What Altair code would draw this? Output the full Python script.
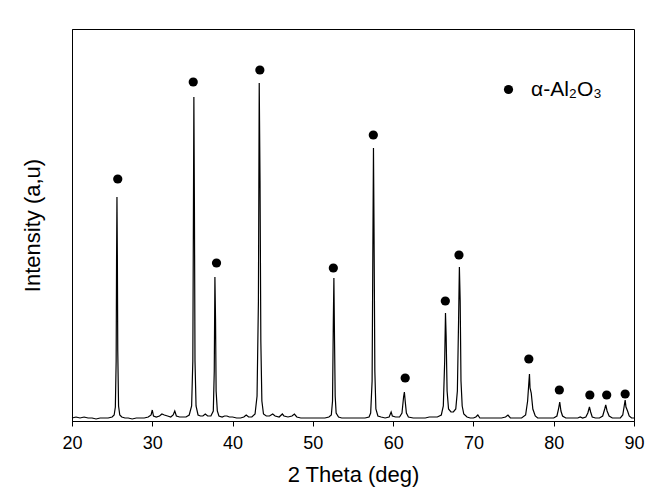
import altair as alt
import pandas as pd

# XRD profile (2θ in degrees, intensity in arbitrary units)
two_theta = [
    20.0, 20.5, 21.0, 21.5, 22.0, 22.5, 23.0, 23.5, 24.0, 24.5, 25.0, 25.25, 25.4, 25.5, 25.55,
    25.6, 25.65, 25.7, 25.8, 25.95, 26.2, 26.6, 27.0, 27.5, 28.0, 28.5, 29.0, 29.5, 29.85, 30.0,
    30.15, 30.5, 30.9, 31.2, 31.5, 31.9, 32.3, 32.6, 32.8, 33.0, 33.4, 33.8, 34.2, 34.6, 34.9,
    35.05, 35.12, 35.18, 35.25, 35.32, 35.45, 35.7, 36.0, 36.3, 36.6, 36.9, 37.3, 37.6, 37.72,
    37.8, 37.88, 37.95, 38.1, 38.3, 38.7, 39.0, 39.3, 39.6, 40.0, 40.5, 41.0, 41.4, 41.7, 42.0,
    42.4, 42.8, 43.05, 43.22, 43.32, 43.42, 43.52, 43.65, 43.85, 44.2, 44.6, 45.0, 45.3, 45.8,
    46.2, 46.4, 46.9, 47.4, 47.7, 48.0, 48.5, 49.0, 49.5, 50.0, 50.5, 51.0, 51.5, 52.0, 52.3,
    52.45, 52.55, 52.62, 52.7, 52.78, 52.9, 53.2, 53.6, 54.0, 54.5, 55.0, 55.5, 56.0, 56.5, 57.0,
    57.2, 57.38, 57.48, 57.55, 57.62, 57.72, 57.85, 58.1, 58.5, 59.0, 59.5, 59.75, 59.9, 60.3,
    60.8, 61.1, 61.3, 61.4, 61.5, 61.65, 61.9, 62.5, 63.0, 63.5, 64.0, 64.5, 65.0, 65.5, 66.0,
    66.25, 66.42, 66.52, 66.6, 66.72, 66.9, 67.2, 67.5, 67.8, 68.0, 68.15, 68.25, 68.35, 68.45,
    68.6, 68.8, 69.2, 69.6, 70.0, 70.3, 70.55, 70.8, 71.5, 72.0, 72.5, 73.0, 73.5, 74.0, 74.3,
    74.6, 75.0, 75.5, 76.0, 76.5, 76.75, 76.9, 76.98, 77.05, 77.2, 77.4, 77.7, 78.0, 78.5, 79.0,
    79.5, 80.0, 80.4, 80.6, 80.75, 80.9, 81.1, 81.5, 82.0, 82.5, 83.0, 83.3, 83.6, 84.0, 84.25,
    84.45, 84.6, 84.8, 85.2, 85.7, 86.1, 86.35, 86.48, 86.65, 86.9, 87.3, 87.8, 88.3, 88.6, 88.8,
    88.9, 89.0, 89.2, 89.4, 89.7, 90.0,
]
intensity = [
    3, 4, 3, 4, 3, 3, 2, 3, 3, 3, 4, 6, 14, 60, 160,
    224, 165, 70, 15, 6, 4, 3, 3, 2, 3, 3, 3, 4, 6, 11,
    5, 4, 5, 7, 6, 5, 4, 6, 10, 5, 4, 4, 4, 6, 15,
    60, 200, 324, 210, 60, 15, 6, 5, 5, 7, 5, 5, 10, 50,
    144, 100, 30, 10, 5, 4, 5, 5, 4, 4, 3, 3, 4, 6, 4,
    4, 7, 25, 120, 338, 240, 80, 20, 7, 5, 5, 7, 5, 4,
    7, 5, 4, 5, 7, 4, 3, 3, 3, 3, 3, 3, 3, 4, 6,
    20, 100, 143, 80, 25, 8, 4, 3, 3, 3, 3, 3, 3, 3, 4,
    8, 40, 180, 273, 190, 50, 12, 5, 4, 3, 4, 9, 5, 4,
    4, 8, 24, 29, 20, 8, 4, 3, 3, 3, 3, 4, 4, 4, 6,
    15, 60, 108, 85, 30, 12, 9, 9, 12, 30, 100, 154, 120, 40,
    15, 7, 4, 3, 3, 4, 6, 3, 3, 3, 3, 3, 3, 4, 6,
    3, 3, 3, 3, 6, 20, 38, 47, 33, 28, 12, 5, 3, 3, 3,
    3, 3, 5, 12, 19, 10, 5, 3, 3, 3, 3, 4, 3, 4, 8,
    14, 9, 4, 3, 3, 5, 12, 16, 10, 5, 3, 3, 3, 6, 16,
    21, 14, 10, 5, 3, 3,
]

# Peak markers for α-Al2O3
marker_theta = [25.7, 35.1, 38.0, 43.4, 52.55, 57.53, 61.5, 66.5, 68.2, 76.9, 80.7, 84.5, 86.6, 88.9]
marker_height = [242, 339, 158, 351, 153, 286, 43, 120, 166, 62, 31, 26, 26, 27]
phase_name = "α-Al₂O₃"

FONT = "Liberation Sans"

profile = pd.DataFrame({"theta": two_theta, "intensity": intensity})
markers = pd.DataFrame({
    "theta": marker_theta,
    "intensity": marker_height,
    "phase": [phase_name] * len(marker_theta),
})

x_scale = alt.Scale(domain=[20, 90], nice=False, zero=False)
y_scale = alt.Scale(domain=[0, 392], nice=False, zero=True)

x_axis = alt.Axis(
    title="2 Theta (deg)", values=[20, 30, 40, 50, 60, 70, 80, 90], format="d",
    grid=False, tickSize=5, tickColor="black", domainColor="black",
    labelFontSize=18, labelColor="black", labelFont=FONT, labelPadding=8,
    labelFlush=False, labelOverlap=False,
    titleFontSize=22, titleFont=FONT, titleFontWeight="normal", titleColor="black",
    titlePadding=12,
)
y_axis = alt.Axis(
    title="Intensity (a,u)", labels=False, ticks=False, grid=False,
    domainColor="black", titleFontSize=22, titleFont=FONT,
    titleFontWeight="normal", titleColor="black", titlePadding=28,
)

line = alt.Chart(profile).mark_line(color="black", strokeWidth=1.2, interpolate="linear").encode(
    x=alt.X("theta:Q", scale=x_scale, axis=x_axis),
    y=alt.Y("intensity:Q", scale=y_scale, axis=y_axis),
)

dots = alt.Chart(markers).mark_point(filled=True, color="black", size=85, opacity=1).encode(
    x=alt.X("theta:Q", scale=x_scale),
    y=alt.Y("intensity:Q", scale=y_scale),
    shape=alt.Shape(
        "phase:N",
        scale=alt.Scale(range=["circle"]),
        legend=alt.Legend(
            title=None, orient="none", legendX=426, legendY=50, padding=0,
            labelFontSize=21, labelFont=FONT, labelColor="black",
            symbolSize=85, symbolFillColor="black", symbolStrokeColor="black",
            symbolType="circle", labelOffset=12,
        ),
    ),
)

chart = (
    alt.layer(line, dots)
    .properties(
        width=562, height=392,
        autosize=alt.AutoSizeParams(type="none"),
        padding={"left": 72, "top": 29, "right": 30, "bottom": 81},
        background="white",
    )
    .configure_view(stroke="black", strokeWidth=1)
)

chart.save("out.html", embed_options={"renderer": "svg", "actions": False})
